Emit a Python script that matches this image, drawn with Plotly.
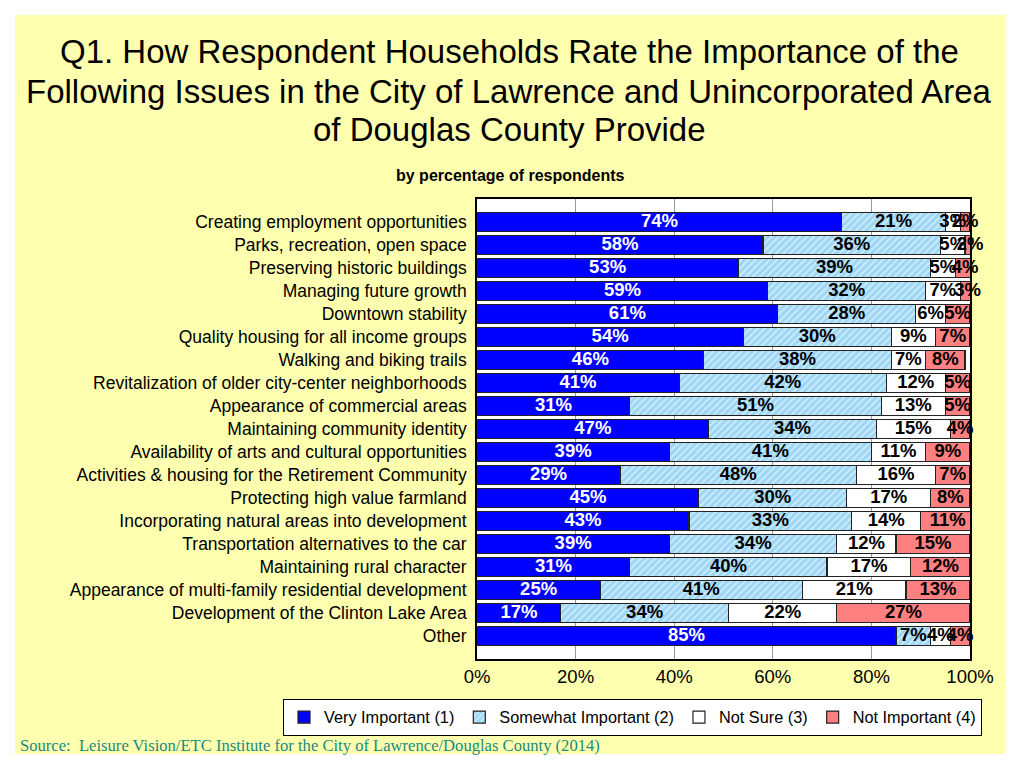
import plotly.graph_objects as go

# Issues rated, top to bottom
issues = [
    "Creating employment opportunities",
    "Parks, recreation, open space",
    "Preserving historic buildings",
    "Managing future growth",
    "Downtown stability",
    "Quality housing for all income groups",
    "Walking and biking trails",
    "Revitalization of older city-center neighborhoods",
    "Appearance of commercial areas",
    "Maintaining community identity",
    "Availability of arts and cultural opportunities",
    "Activities & housing for the Retirement Community",
    "Protecting high value farmland",
    "Incorporating natural areas into development",
    "Transportation alternatives to the car",
    "Maintaining rural character",
    "Appearance of multi-family residential development",
    "Development of the Clinton Lake Area",
    "Other",
]

very_important = [74, 58, 53, 59, 61, 54, 46, 41, 31, 47, 39, 29, 45, 43, 39, 31, 25, 17, 85]
somewhat_important = [21, 36, 39, 32, 28, 30, 38, 42, 51, 34, 41, 48, 30, 33, 34, 40, 41, 34, 7]
not_sure = [3, 5, 5, 7, 6, 9, 7, 12, 13, 15, 11, 16, 17, 14, 12, 17, 21, 22, 4]
not_important = [2, 2, 4, 3, 5, 7, 8, 5, 5, 4, 9, 7, 8, 11, 15, 12, 13, 27, 4]

x_ticks = [0, 20, 40, 60, 80, 100]
x_tick_labels = ["0%", "20%", "40%", "60%", "80%", "100%"]

title_lines = [
    "Q1. How Respondent Households Rate the Importance of the",
    "Following Issues in the City of Lawrence and Unincorporated Area",
    "of Douglas County Provide",
]

FONT = "Liberation Sans, Arial, sans-serif"

# the page body has an 8px margin, so the figure is drawn 8px smaller
OFF = 8
W, H = 1018 - 2 * OFF, 771 - 2 * OFF
# plot area in page pixels
PL, PR, PT, PB = 477, 970, 199, 659


def px_x(v):
    return (v - PL) / (PR - PL)


def px_y(v):
    return (PB - v) / (PB - PT)


fig = go.Figure()

series = [
    ("Very Important (1)", very_important, "#0000ff", "white", None),
    ("Somewhat Important (2)", somewhat_important, "#9dd7f5", "black",
     dict(shape="/", fgcolor="white", size=5, solidity=0.35)),
    ("Not Sure (3)", not_sure, "white", "black", None),
    ("Not Important (4)", not_important, "#ff8080", "black", None),
]

# stacked bars
for name, vals, color, txtcolor, pattern in series:
    marker = dict(color=color, line=dict(color="#222222", width=1.2))
    if pattern:
        marker["pattern"] = pattern
    fig.add_trace(
        go.Bar(
            y=issues,
            x=vals,
            name=name,
            orientation="h",
            marker=marker,
            hoverinfo="x+y+name",
        )
    )

# data labels centred in each segment, allowed to spill over
base = [0] * len(issues)
for name, vals, color, txtcolor, pattern in series:
    centers = [b + v / 2 for b, v in zip(base, vals)]
    base = [b + v for b, v in zip(base, vals)]
    fig.add_trace(
        go.Scatter(
            y=issues,
            x=centers,
            mode="text",
            text=[f"{v}%" for v in vals],
            textposition="middle center",
            textfont=dict(color=txtcolor, size=18.5, family=FONT, weight="bold"),
            showlegend=False,
            hoverinfo="skip",
            cliponaxis=False,
        )
    )

# yellow card behind everything, white plot area on top of it
fig.add_shape(type="rect", xref="paper", yref="paper",
              x0=px_x(15), x1=px_x(1005), y0=px_y(754), y1=px_y(15),
              fillcolor="#ffffb0", line=dict(width=0), layer="below")
fig.add_shape(type="rect", xref="paper", yref="paper",
              x0=0, x1=1, y0=0, y1=1,
              fillcolor="white", line=dict(width=0), layer="below")

title_y = [52, 92, 129]
annotations = [
    dict(text=t, xref="paper", yref="paper", x=px_x(509), y=px_y(y),
         xanchor="center", yanchor="middle", showarrow=False,
         font=dict(size=33, family=FONT, color="black"))
    for t, y in zip(title_lines, title_y)
]
annotations += [
    dict(text="<b>by percentage of respondents</b>", xref="paper", yref="paper",
         x=px_x(510), y=px_y(176), xanchor="center", yanchor="middle",
         showarrow=False, font=dict(size=16, family=FONT)),
    dict(text="Source:  Leisure Vision/ETC Institute for the City of Lawrence/Douglas County (2014)",
         xref="paper", yref="paper", x=px_x(18), y=px_y(745),
         xanchor="left", yanchor="middle", showarrow=False,
         font=dict(size=16.6, family="Liberation Serif, Times New Roman, serif",
                   color="#1b8a7e")),
]

fig.update_layout(
    width=W,
    height=H,
    barmode="stack",
    bargap=0.16,
    paper_bgcolor="white",
    plot_bgcolor="white",
    margin=dict(l=PL - OFF, r=W - (PR - OFF), t=PT - OFF, b=H - (PB - OFF), autoexpand=False),
    font=dict(family=FONT, size=17.5, color="black"),
    xaxis=dict(
        range=[0, 100],
        tickvals=x_ticks,
        ticktext=x_tick_labels,
        showgrid=True,
        gridcolor="#999999",
        gridwidth=1,
        showline=True,
        linecolor="black",
        linewidth=2,
        mirror=True,
        ticks="",
        zeroline=False,
        tickfont=dict(size=18.5),
    ),
    yaxis=dict(
        autorange="reversed",
        showline=True,
        linecolor="black",
        linewidth=2,
        mirror=True,
        ticks="",
        ticksuffix=" ",
        tickfont=dict(size=17.5),
    ),
    legend=dict(
        orientation="h",
        x=px_x(283), xanchor="left",
        y=px_y(699), yanchor="top",
        bgcolor="white",
        bordercolor="black",
        borderwidth=1,
        font=dict(size=16.3),
        traceorder="normal",
        itemwidth=30,
        tracegroupgap=0,
    ),
    annotations=annotations,
)

fig.write_html("out.html")
